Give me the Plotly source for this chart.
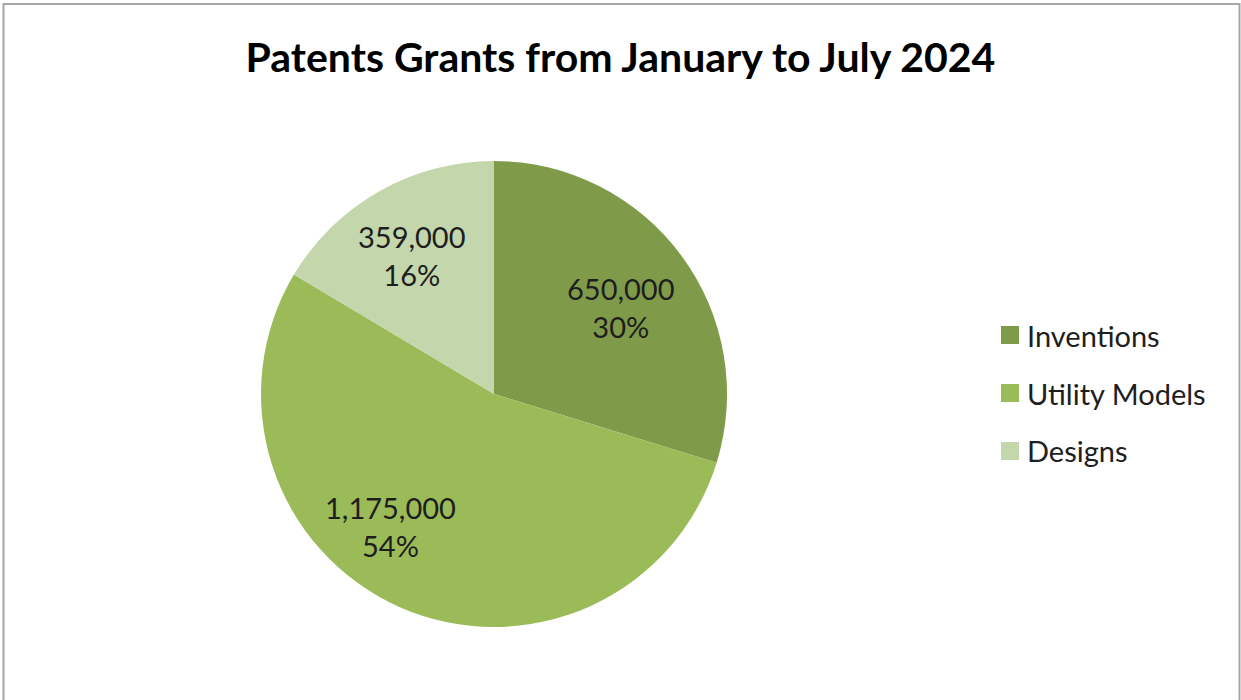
import math
import plotly.graph_objects as go

# Patent grants, January - July 2024
categories = ["Inventions", "Utility Models", "Designs"]
grants = [650000, 1175000, 359000]
colors = ["#7f9b4a", "#9bbb59", "#c4d6ab"]

W, H = 1241, 700
CX, CY, R = 494, 394, 233  # pie centre and radius in pixels
FONT = "Lato"

fig = go.Figure(
    go.Pie(
        labels=categories,
        values=grants,
        marker=dict(colors=colors, line=dict(width=0)),
        sort=False,
        direction="clockwise",
        rotation=0,
        textinfo="none",
        hoverinfo="label+value+percent",
        showlegend=False,
        domain=dict(
            x=[(CX - R) / W, (CX + R) / W],
            y=[1 - (CY + R) / H, 1 - (CY - R) / H],
        ),
    )
)

# Data labels (value + share), placed along each slice's mid-angle
label_radius = [0.66, 0.72, 0.69]
label_shift_deg = [2, 14, -1]
total = sum(grants)
cum = 0
annotations = []
for v, rf, sh in zip(grants, label_radius, label_shift_deg):
    mid = (cum + v / 2) / total * 360 + sh
    cum += v
    px = CX + rf * R * math.sin(math.radians(mid))
    py = CY - rf * R * math.cos(math.radians(mid))
    annotations.append(dict(
        x=px / W, y=1 - py / H, xref="paper", yref="paper",
        xanchor="center", yanchor="middle",
        text=f"{v:,}<br>{round(v / total * 100)}%",
        showarrow=False, align="center",
        font=dict(family=FONT, size=29, color="#1e1e1e"),
    ))

# Legend drawn as swatches with labels
shapes = []
LX, LY0, LSTEP, SW = 1001, 335, 58, 18
for i, (name, c) in enumerate(zip(categories, colors)):
    y = LY0 + i * LSTEP
    shapes.append(dict(
        type="rect", xref="paper", yref="paper",
        x0=LX / W, x1=(LX + SW) / W,
        y0=1 - (y + SW / 2) / H, y1=1 - (y - SW / 2) / H,
        fillcolor=c, line=dict(width=0),
    ))
    annotations.append(dict(
        x=(LX + SW + 6) / W, y=1 - y / H, xref="paper", yref="paper",
        xanchor="left", yanchor="middle", text=name, showarrow=False,
        font=dict(family=FONT, size=29, color="#1e1e1e"),
    ))

# Chart frame
shapes.append(dict(
    type="rect", xref="paper", yref="paper",
    x0=3.5 / W, x1=1239.5 / W, y0=-0.02, y1=1 - 4 / H,
    line=dict(color="#a6a6a6", width=2), fillcolor="rgba(0,0,0,0)",
))

fig.update_layout(
    width=W, height=H,
    margin=dict(l=0, r=0, t=0, b=0),
    paper_bgcolor="white",
    plot_bgcolor="white",
    title=dict(
        text="<b>Patents Grants from January to July 2024</b>",
        x=0.5, xanchor="center", y=1 - 58 / H, yanchor="middle",
        font=dict(family=FONT, size=41, color="#000000"),
    ),
    annotations=annotations,
    shapes=shapes,
)

fig.write_html("out.html")
